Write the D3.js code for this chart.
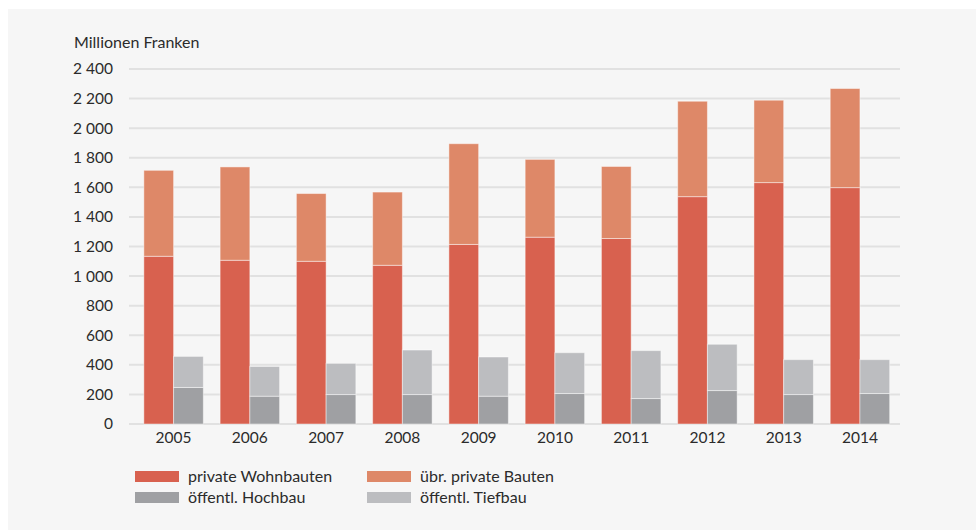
<!DOCTYPE html>
<html>
<head>
<meta charset="utf-8">
<script src="https://cdn.jsdelivr.net/npm/d3@7"></script>
<style>
  html, body { margin: 0; padding: 0; background: #ffffff; }
  svg { display: block; }
  text { font-family: Lato, "Noto Sans", sans-serif; fill: #2b2b2b; }
</style>
</head>
<body>
<svg id="chart" width="976" height="530"></svg>
<script>
// Bauinvestitionen in Millionen Franken
const years = ["2005","2006","2007","2008","2009","2010","2011","2012","2013","2014"];
const privateWohnbauten = [1134, 1107, 1100, 1073, 1214, 1263, 1254, 1537, 1632, 1598];
const uebrPrivateBauten = [581, 631, 458, 495, 681, 526, 487, 645, 557, 670];
const oeffHochbau = [247, 188, 199, 199, 188, 206, 172, 226, 199, 206];
const oeffTiefbau = [210, 201, 211, 301, 265, 276, 324, 313, 236, 229];
const yTicks = [0, 200, 400, 600, 800, 1000, 1200, 1400, 1600, 1800, 2000, 2200, 2400];

const colors = {
  wohn: "#d8614f",
  uebr: "#de8868",
  hoch: "#9fa0a3",
  tief: "#bcbdc0"
};

const svg = d3.select("#chart");

// panel background
svg.append("rect")
  .attr("x", 8).attr("y", 9)
  .attr("width", 968).attr("height", 521)
  .attr("fill", "#f6f6f6");

const y = d3.scaleLinear().domain([0, 2400]).range([424, 69]);
const x = d3.scaleBand().domain(years)
  .range([129, 900]).paddingInner(0.22).paddingOuter(0.165).align(0.59);
const sub = d3.scaleBand().domain(["priv", "oeff"]).range([0, x.bandwidth()]);

const fmt = v => d3.format(",")(v).replace(/,/g, " ");

// gridlines
svg.append("g").selectAll("line").data(yTicks).join("line")
  .attr("x1", 129).attr("x2", 900)
  .attr("y1", d => y(d)).attr("y2", d => y(d))
  .attr("stroke", "#e1e1e1").attr("stroke-width", 2);

// y axis labels
const yAxis = d3.axisLeft(y).tickValues(yTicks).tickFormat(fmt).tickSize(0).tickPadding(0);
svg.append("g").attr("transform", "translate(113,0)").call(yAxis)
  .call(g => g.select(".domain").remove())
  .call(g => g.selectAll("text").style("font-size", "15.5px").attr("fill", "#2b2b2b")
    .style("font-family", "Lato, 'Noto Sans', sans-serif"));

// axis title
svg.append("text").attr("x", 74).attr("y", 48)
  .style("font-size", "16px").text("Millionen Franken");

// stacked bars
const stacks = [
  { key: "wohn", col: "priv", base: years.map(() => 0), vals: privateWohnbauten },
  { key: "uebr", col: "priv", base: privateWohnbauten, vals: uebrPrivateBauten },
  { key: "hoch", col: "oeff", base: years.map(() => 0), vals: oeffHochbau },
  { key: "tief", col: "oeff", base: oeffHochbau, vals: oeffTiefbau }
];

const bars = svg.append("g");
stacks.forEach(s => {
  bars.append("g").selectAll("rect").data(years).join("rect")
    .attr("x", (d) => x(d) + sub(s.col))
    .attr("width", sub.bandwidth())
    .attr("y", (d, i) => y(s.base[i] + s.vals[i]))
    .attr("height", (d, i) => y(s.base[i]) - y(s.base[i] + s.vals[i]))
    .attr("fill", colors[s.key])
    .attr("stroke", "rgba(255,255,255,0.45)")
    .attr("stroke-width", 1);
});

// x axis labels
const xAxis = d3.axisBottom(x).tickSize(0).tickPadding(0);
svg.append("g").attr("transform", "translate(0,438)").call(xAxis)
  .call(g => g.select(".domain").remove())
  .call(g => g.selectAll("text").style("font-size", "15.5px").attr("fill", "#2b2b2b")
    .attr("dy", "0.35em")
    .style("font-family", "Lato, 'Noto Sans', sans-serif"));

// legend
const legendItems = [
  { key: "wohn", label: "private Wohnbauten", x: 135, y: 471 },
  { key: "uebr", label: "übr. private Bauten", x: 367, y: 471 },
  { key: "hoch", label: "öffentl. Hochbau", x: 135, y: 492 },
  { key: "tief", label: "öffentl. Tiefbau", x: 367, y: 492 }
];
const lg = svg.append("g").selectAll("g").data(legendItems).join("g")
  .attr("transform", d => `translate(${d.x},${d.y})`);
lg.append("rect").attr("width", 44).attr("height", 11).attr("fill", d => colors[d.key]);
lg.append("text").attr("x", 53).attr("y", 5.5).attr("dy", "0.35em")
  .style("font-size", "16px").text(d => d.label);
</script>
</body>
</html>
